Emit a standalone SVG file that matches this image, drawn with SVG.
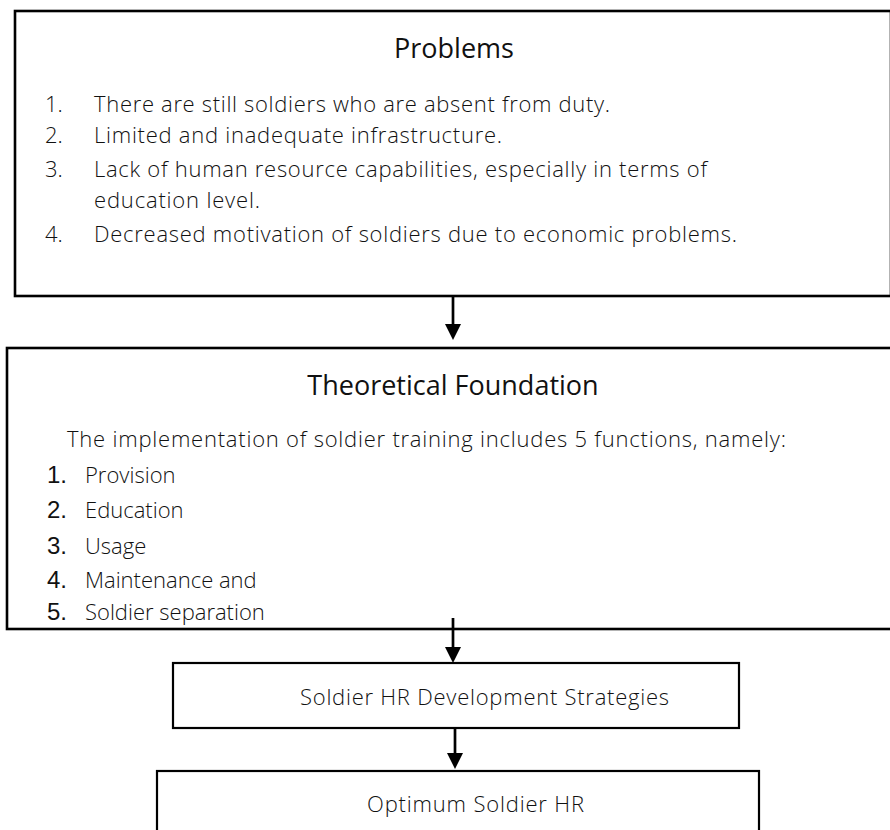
<svg xmlns="http://www.w3.org/2000/svg" width="890" height="830" viewBox="0 0 890 830">
<defs>
<style>
.box{fill:#fff;stroke:#000;stroke-width:2.6}
.sbox{fill:#fff;stroke:#000;stroke-width:2.2}
.title{font-family:"Open Sans","Liberation Sans",sans-serif;font-size:27px;fill:#111}
.body{font-family:"Open Sans","Liberation Sans",sans-serif;font-weight:300;font-size:22px;fill:#111}
.num{font-family:"Liberation Sans",Arial,sans-serif;font-size:24px;fill:#111}
.conn{stroke:#000;stroke-width:2.7;fill:none;marker-end:url(#ah)}
</style>
<marker id="ah" viewBox="0 0 16 16" markerWidth="16" markerHeight="16" markerUnits="userSpaceOnUse" refX="8" refY="8" orient="auto">
<path d="M0,0 L16,8 L0,16 z" fill="#000"/>
</marker>
</defs>
<rect width="890" height="830" fill="#fff"/>
<g id="problems">
<rect class="box" x="15" y="11" width="876" height="285"/>
<text class="title" x="454" y="58" text-anchor="middle">Problems</text>
<text class="body" x="45" y="112">1.</text>
<text class="body" x="94" y="112" textLength="516" lengthAdjust="spacing">There are still soldiers who are absent from duty.</text>
<text class="body" x="45" y="143">2.</text>
<text class="body" x="94" y="143" textLength="408" lengthAdjust="spacing">Limited and inadequate infrastructure.</text>
<text class="body" x="45" y="177">3.</text>
<text class="body" x="94" y="177" textLength="613" lengthAdjust="spacing">Lack of human resource capabilities, especially in terms of</text>
<text class="body" x="94" y="208" textLength="166" lengthAdjust="spacing">education level.</text>
<text class="body" x="45" y="242">4.</text>
<text class="body" x="94" y="242" textLength="643" lengthAdjust="spacing">Decreased motivation of soldiers due to economic problems.</text>
</g>
<g id="theory">
<rect class="box" x="7" y="348" width="890" height="281"/>
<text class="title" x="453" y="395" text-anchor="middle">Theoretical Foundation</text>
<text class="body" x="67" y="447" textLength="719" lengthAdjust="spacing">The implementation of soldier training includes 5 functions, namely:</text>
<text class="num" x="47" y="483">1.</text>
<text class="body" x="85" y="483">Provision</text>
<text class="num" x="47" y="518">2.</text>
<text class="body" x="85" y="518">Education</text>
<text class="num" x="47" y="554">3.</text>
<text class="body" x="85" y="554">Usage</text>
<text class="num" x="47" y="588">4.</text>
<text class="body" x="85" y="588">Maintenance and</text>
<text class="num" x="47" y="620">5.</text>
<text class="body" x="85" y="620">Soldier separation</text>
</g>
<g id="strategies">
<rect class="sbox" x="173" y="663" width="566" height="65"/>
<text class="body" x="300" y="705" textLength="369" lengthAdjust="spacing">Soldier HR Development Strategies</text>
</g>
<g id="optimum">
<rect class="sbox" x="157" y="771" width="602" height="90"/>
<text class="body" x="367" y="812" textLength="217" lengthAdjust="spacing">Optimum Soldier HR</text>
</g>
<g id="connectors">
<line class="conn" x1="453" y1="296" x2="453" y2="332"/>
<line class="conn" x1="453" y1="618" x2="453" y2="655"/>
<line class="conn" x1="455" y1="728" x2="455" y2="761"/>
</g>
</svg>
